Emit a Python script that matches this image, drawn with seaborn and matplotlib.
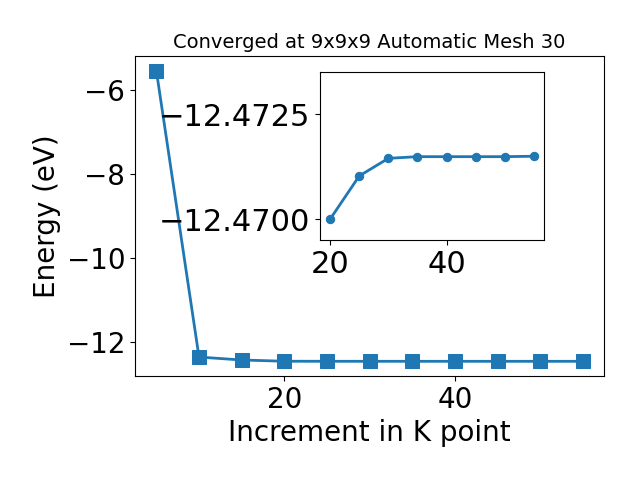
import matplotlib
matplotlib.use('Agg')
import matplotlib.pyplot as plt
import seaborn as sns

# k-point convergence data
kpoints = [5, 10, 15, 20, 25, 30, 35, 40, 45, 50, 55]
energy = [-5.54, -12.37, -12.44, -12.47, -12.471, -12.4714, -12.4715,
          -12.4715, -12.4715, -12.4715, -12.4715]

# zoomed in part (20 and above)
kpoints_zoom = [20, 25, 30, 35, 40, 45, 50, 55]
energy_zoom = [-12.4700, -12.47103, -12.47145, -12.47149, -12.47149,
               -12.47149, -12.47149, -12.47150]

fig = plt.figure(figsize=(6.4, 4.8), dpi=100)
ax = fig.add_axes([0.211, 0.217, 0.733, 0.666])
sns.lineplot(x=kpoints, y=energy, marker='s', markersize=10, linewidth=2,
             color='C0', markeredgecolor='C0', ax=ax)
ax.set_title('Converged at 9x9x9 Automatic Mesh 30', fontsize=14)
ax.set_xlabel('Increment in K point', fontsize=20)
ax.set_ylabel('Energy (eV)', fontsize=20)
ax.tick_params(axis='both', labelsize=20)

# inset
axins = fig.add_axes([0.5, 0.5, 0.35, 0.349])
sns.lineplot(x=kpoints_zoom, y=energy_zoom, marker='o', markersize=6,
             linewidth=2, color='C0', markeredgecolor='C0', ax=axins)
axins.set_ylim(-12.4695, -12.4735)
axins.set_yticks([-12.4700, -12.4725])
axins.ticklabel_format(axis='y', useOffset=False)
axins.tick_params(axis='both', labelsize=22)

plt.savefig('out.png')
